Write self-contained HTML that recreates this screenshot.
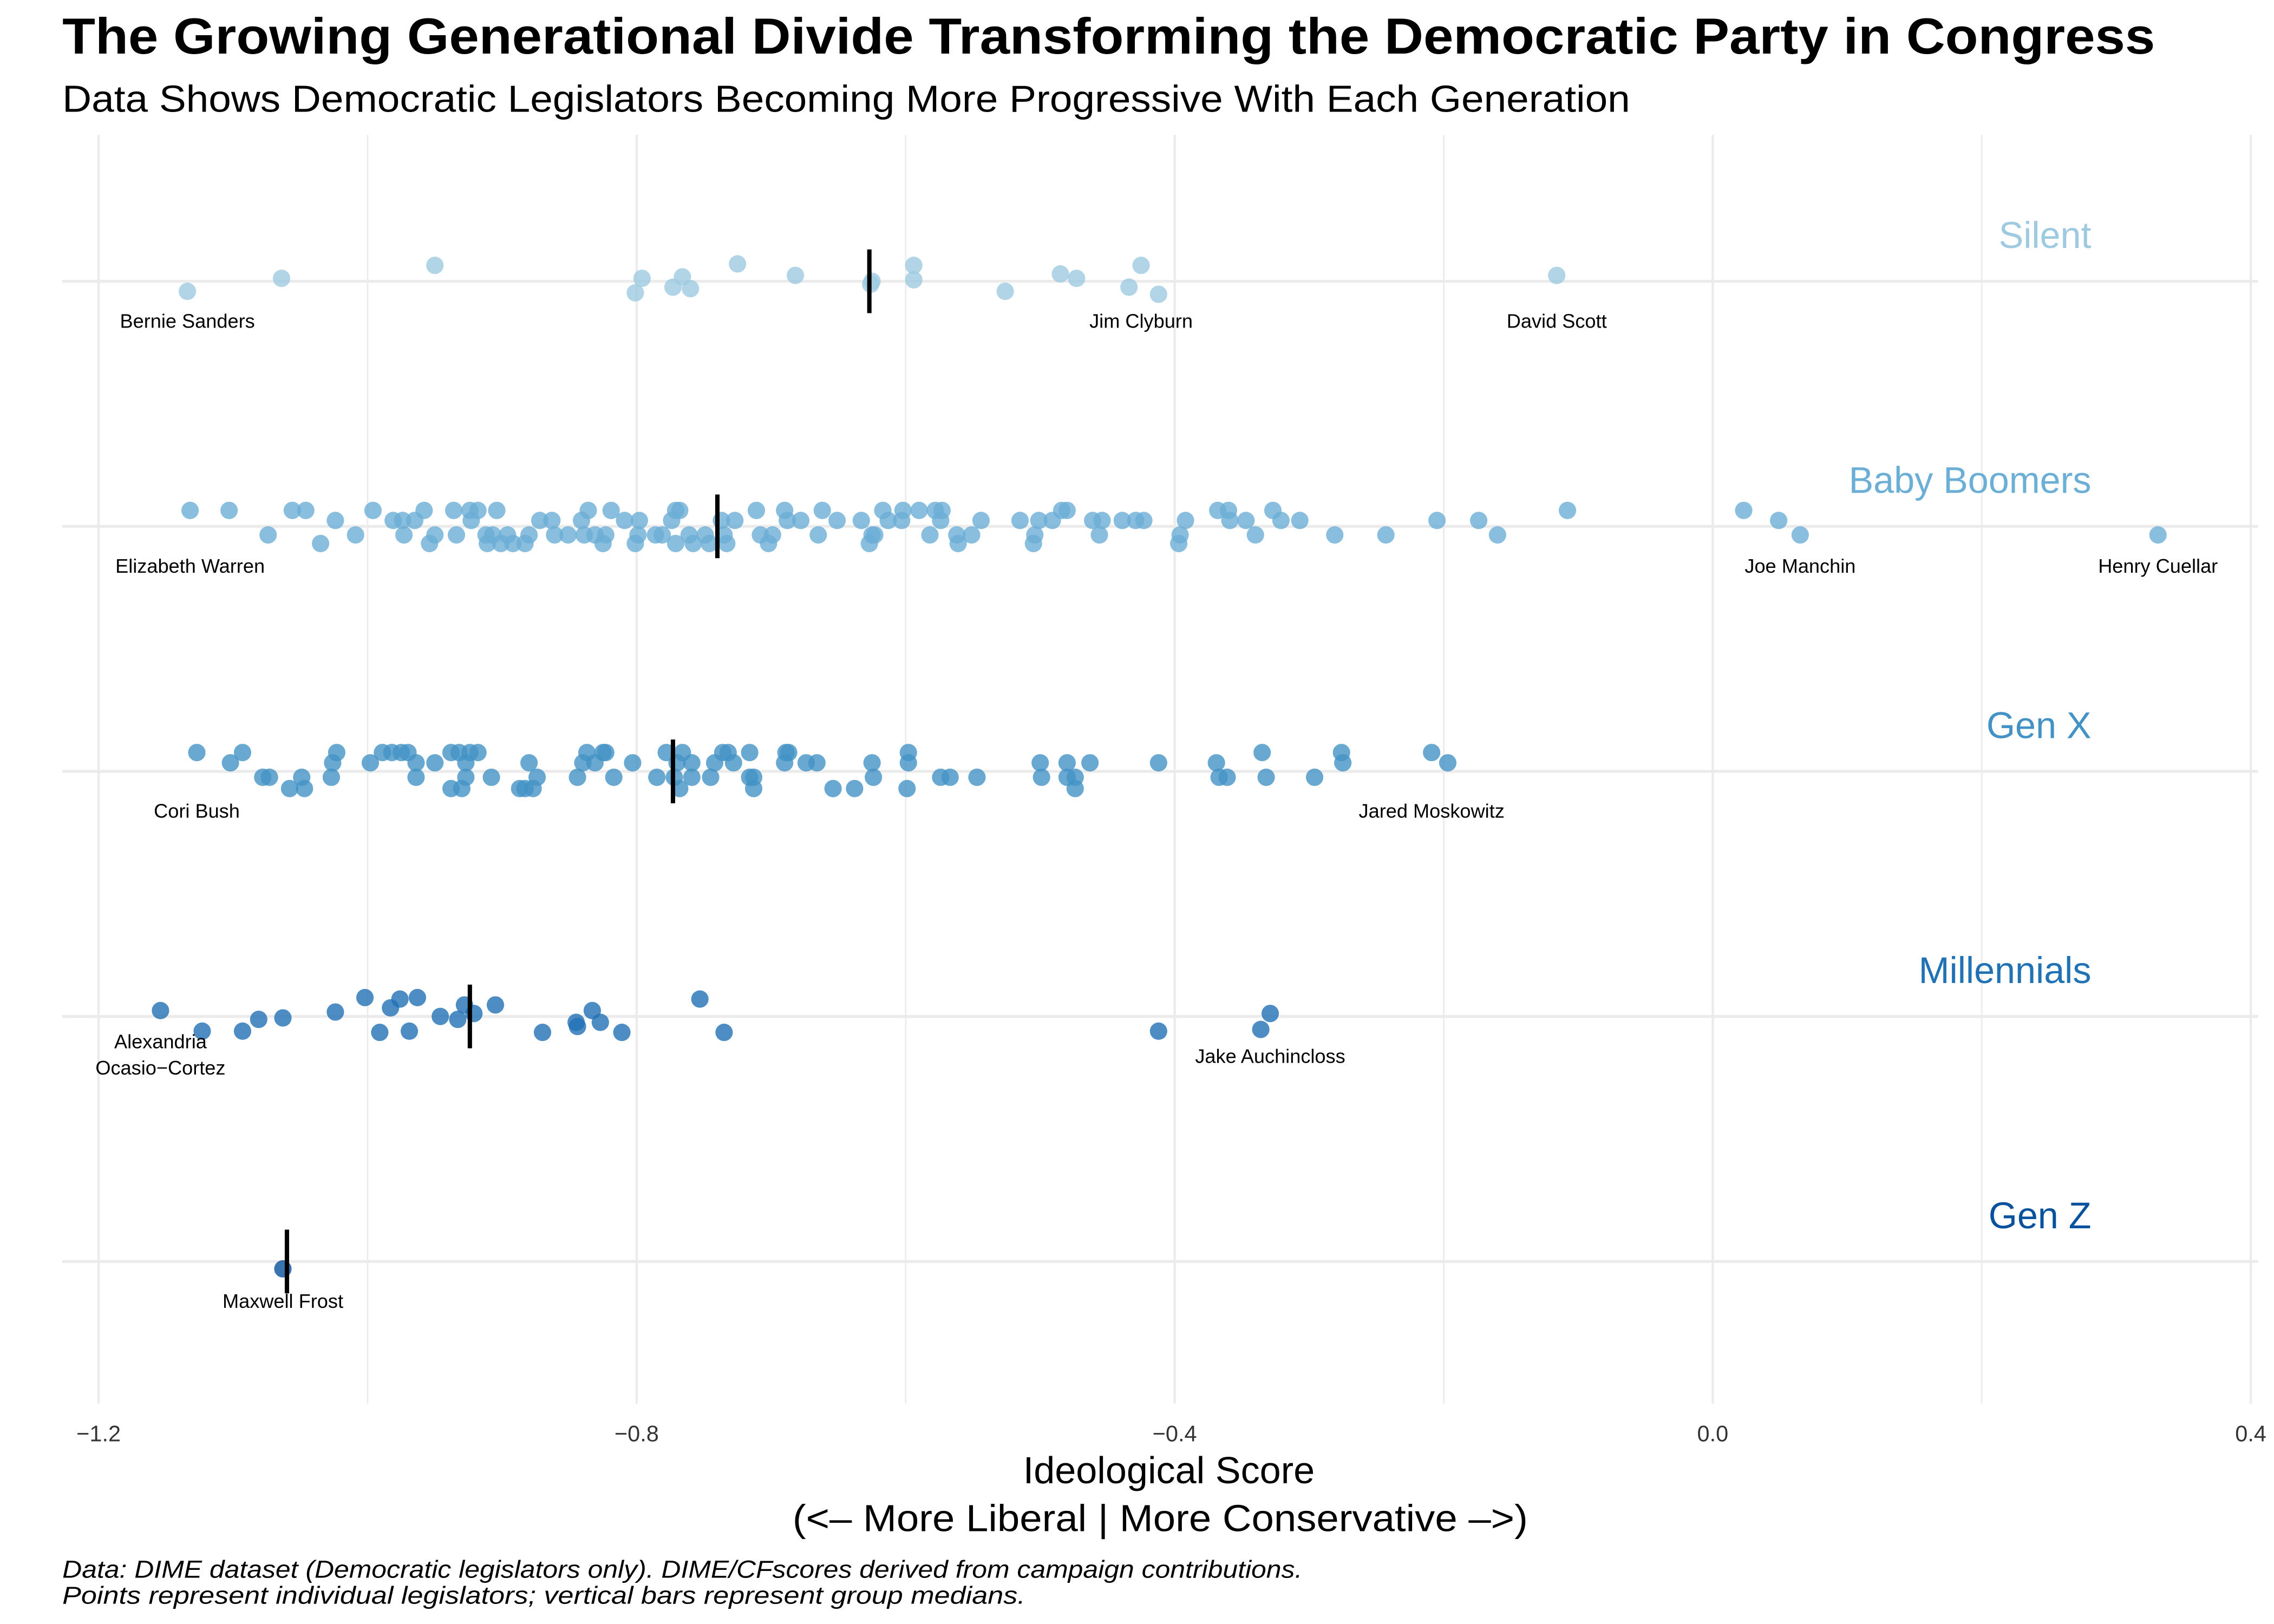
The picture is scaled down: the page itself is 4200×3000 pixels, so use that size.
<!DOCTYPE html>
<html><head><meta charset="utf-8"><style>
html,body{margin:0;padding:0;background:#fff;}
svg{display:block;font-family:"Liberation Sans",Arial,sans-serif;}
</style></head><body>
<svg id="chart" width="4200" height="3000" viewBox="0 0 1568 1120" xmlns="http://www.w3.org/2000/svg">
<rect width="1568" height="1120" fill="#fff"/>
<text x="43" y="37" font-size="35" font-weight="bold" fill="#000" textLength="1443" lengthAdjust="spacingAndGlyphs">The Growing Generational Divide Transforming the Democratic Party in Congress</text>
<text x="43" y="77" font-size="26" fill="#000" textLength="1081" lengthAdjust="spacingAndGlyphs">Data Shows Democratic Legislators Becoming More Progressive With Each Generation</text>
<g id="grid"></g>
<g id="marks"></g>
<text x="806" y="1023" font-size="26" text-anchor="middle" textLength="201" lengthAdjust="spacingAndGlyphs">Ideological Score</text>
<text x="800" y="1056" font-size="26" text-anchor="middle" textLength="507" lengthAdjust="spacingAndGlyphs">(&lt;– More Liberal | More Conservative –&gt;)</text>
<text x="43" y="1088" font-size="17" font-style="italic" textLength="855" lengthAdjust="spacingAndGlyphs">Data: DIME dataset (Democratic legislators only). DIME/CFscores derived from campaign contributions.</text>
<text x="43" y="1106" font-size="17" font-style="italic" textLength="664" lengthAdjust="spacingAndGlyphs">Points represent individual legislators; vertical bars represent group medians.</text>
</svg>
<script>
const generations = ["Silent","Baby Boomers","Gen X","Millennials","Gen Z"];
const genColors = ["#9ecae1","#6baed6","#4292c6","#2171b5","#08519c"];
const xTicks = [-1.2,-0.8,-0.4,0.0,0.4];
const xTickLabels = ["−1.2","−0.8","−0.4","0.0","0.4"];
const xMinorTicks = [-1.0,-0.6,-0.2,0.2];
const medians = [-0.627,-0.740,-0.773,-0.924,-1.060];

const silentX = [-1.134,-1.064,-0.950,-0.801,-0.796,-0.773,-0.766,-0.760,-0.725,-0.682,-0.626,-0.625,-0.594,-0.594,-0.526,-0.485,-0.473,-0.434,-0.425,-0.412,-0.116];
const silentJ = [0.041,-0.012,-0.065,0.047,-0.012,0.024,-0.018,0.03,-0.071,-0.024,0.012,0,-0.065,-0.006,0.041,-0.03,-0.012,0.024,-0.065,0.053,-0.024];

const boomerA = [-1.132,-1.103,-1.056,-1.046,-0.996,-0.958,-0.936,-0.924,-0.918,-0.904,-0.836,-0.819,-0.771,-0.768,-0.711,-0.690,-0.662,-0.617,-0.602,-0.590,-0.578,-0.573,-0.484,-0.480,-0.368,-0.360,-0.327,-0.108,0.023];
const boomerB = [-1.024,-0.981,-0.974,-0.965,-0.923,-0.872,-0.863,-0.841,-0.809,-0.798,-0.774,-0.737,-0.727,-0.688,-0.678,-0.651,-0.633,-0.613,-0.603,-0.574,-0.544,-0.515,-0.501,-0.491,-0.461,-0.454,-0.439,-0.429,-0.423,-0.392,-0.359,-0.347,-0.321,-0.307,-0.205,-0.174,0.049];
const boomerC = [-1.074,-1.009,-0.973,-0.950,-0.934,-0.912,-0.907,-0.896,-0.880,-0.861,-0.851,-0.839,-0.831,-0.823,-0.799,-0.786,-0.781,-0.761,-0.749,-0.735,-0.708,-0.699,-0.665,-0.625,-0.623,-0.582,-0.562,-0.551,-0.504,-0.456,-0.396,-0.340,-0.281,-0.243,-0.160,0.065,0.331];
const boomerD = [-1.035,-0.954,-0.911,-0.901,-0.892,-0.883,-0.825,-0.801,-0.771,-0.758,-0.746,-0.733,-0.702,-0.627,-0.561,-0.505,-0.397];
const boomerJitter = [-0.065,-0.024,0.035,0.07];

const genxA = [-1.127,-1.093,-1.023,-0.989,-0.982,-0.975,-0.970,-0.938,-0.932,-0.924,-0.918,-0.837,-0.825,-0.823,-0.778,-0.766,-0.736,-0.732,-0.716,-0.689,-0.687,-0.598,-0.335,-0.276,-0.209];
const genxB = [-1.102,-1.026,-0.998,-0.964,-0.950,-0.927,-0.880,-0.840,-0.831,-0.803,-0.770,-0.759,-0.742,-0.728,-0.690,-0.674,-0.666,-0.625,-0.598,-0.500,-0.480,-0.463,-0.412,-0.369,-0.275,-0.197];
const genxC = [-1.078,-1.073,-1.049,-1.027,-0.964,-0.927,-0.908,-0.874,-0.844,-0.817,-0.785,-0.772,-0.759,-0.745,-0.716,-0.713,-0.624,-0.574,-0.567,-0.547,-0.499,-0.480,-0.474,-0.367,-0.361,-0.332,-0.296];
const genxD = [-1.058,-1.047,-0.938,-0.930,-0.887,-0.883,-0.877,-0.768,-0.713,-0.654,-0.638,-0.599,-0.474];
const genxJitter = [-0.077,-0.035,0.024,0.07];

const millX = [-1.154,-1.123,-1.093,-1.081,-1.063,-1.024,-1.002,-0.991,-0.983,-0.976,-0.969,-0.963,-0.946,-0.933,-0.928,-0.921,-0.905,-0.870,-0.845,-0.844,-0.833,-0.827,-0.811,-0.753,-0.735,-0.412,-0.336,-0.329];
const millJ = [-0.024,0.06,0.06,0.012,0.006,-0.018,-0.077,0.065,-0.035,-0.071,0.06,-0.077,0,0.012,-0.047,-0.012,-0.047,0.065,0.024,0.041,-0.024,0.024,0.065,-0.071,0.065,0.06,0.053,-0.012];

const genzX = [-1.063];
const genzJ = [0.03];

const labelNames = ["Bernie Sanders","Jim Clyburn","David Scott","Elizabeth Warren","Joe Manchin","Henry Cuellar","Cori Bush","Jared Moskowitz","Alexandria\nOcasio−Cortez","Jake Auchincloss","Maxwell Frost"];
const labelX = [-1.134,-0.425,-0.116,-1.132,0.065,0.331,-1.127,-0.209,-1.154,-0.329,-1.063];
const labelGen = [0,0,0,1,1,1,2,2,3,3,4];

const X0 = 68, PX = 927.5;
function xs(v){ return X0 + (v + 1.2) * PX; }
const ROW0 = 194, ROWSTEP = 169;
function ys(g, j){ return ROW0 + g * ROWSTEP + (j || 0) * ROWSTEP; }

const NS = "http://www.w3.org/2000/svg";
function mk(tag, attrs, parent){ const e = document.createElementNS(NS, tag); for (const k in attrs) e.setAttribute(k, attrs[k]); parent.appendChild(e); return e; }
const grid = document.getElementById('grid');
const marks = document.getElementById('marks');

xMinorTicks.forEach(v => {
  const l = mk('line', {x1: xs(v), x2: xs(v), y1: 93, y2: 968, stroke: '#ebebeb', 'stroke-width': 1}, grid);
  
  
});
xTicks.forEach((v, i) => {
  const l = mk('line', {x1: xs(v), x2: xs(v), y1: 93, y2: 968, stroke: '#ebebeb', 'stroke-width': 1.6}, grid);
  
  
  const t = mk('text', {x: xs(v), y: 994, 'font-size': 15.5, 'text-anchor': 'middle', fill: '#333'}, grid);
  t.textContent = xTickLabels[i];
  
  
});
generations.forEach((g, i) => {
  const l = mk('line', {x1: 43, x2: 1557, y1: ys(i), y2: ys(i), stroke: '#ebebeb', 'stroke-width': 2}, grid);
  
  
  const t = mk('text', {x: 1442, y: ys(i) - 23, 'font-size': 25.5, 'text-anchor': 'end', fill: genColors[i]}, grid);
  t.textContent = g;
  
  
});

function dot(g, v, j){
  const c = mk('circle', {cx: xs(v), cy: ys(g, j), r: 6, fill: genColors[g], 'fill-opacity': 0.8}, marks);
  
  
}
silentX.forEach((v, i) => dot(0, v, silentJ[i]));
[boomerA, boomerB, boomerC, boomerD].forEach((arr, k) => arr.forEach(v => dot(1, v, boomerJitter[k])));
[genxA, genxB, genxC, genxD].forEach((arr, k) => arr.forEach(v => dot(2, v, genxJitter[k])));
millX.forEach((v, i) => dot(3, v, millJ[i]));
genzX.forEach((v, i) => dot(4, v, genzJ[i]));

medians.forEach((m, i) => {
  const l = mk('line', {x1: xs(m), x2: xs(m), y1: ys(i, -0.13), y2: ys(i, 0.13), stroke: '#000', 'stroke-width': 3}, marks);
  
  
});

labelNames.forEach((n, i) => {
  const t = mk('text', {x: xs(labelX[i]), y: ys(labelGen[i]) + 32, 'font-size': 13.5, 'text-anchor': 'middle', fill: '#000'}, marks);
  
  
  const lines = n.split('\n');
  if (lines.length > 1) t.setAttribute('y', ys(labelGen[i]) + 22);
  lines.forEach((ln, k) => {
    const s = mk('tspan', {x: xs(labelX[i]), dy: k ? 18 : 0}, t);
    s.textContent = ln;
  });
});
</script>
</body></html>
